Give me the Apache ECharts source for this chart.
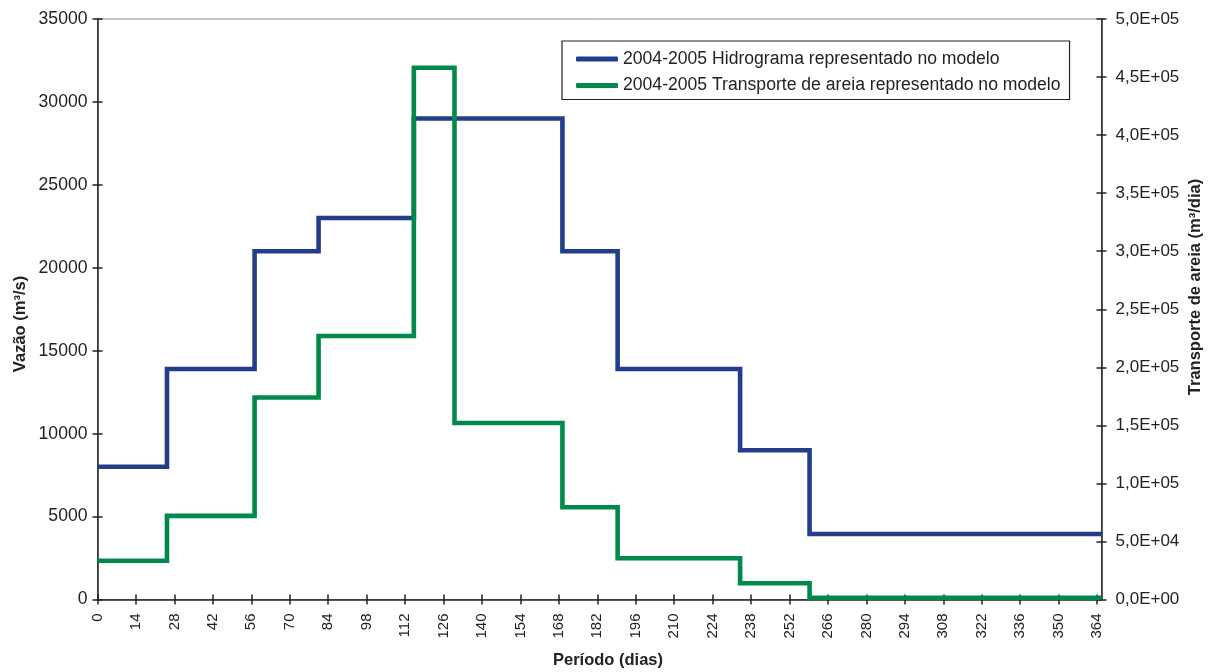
<!DOCTYPE html>
<html>
<head>
<meta charset="utf-8">
<script src="https://cdn.jsdelivr.net/npm/echarts@6/dist/echarts.min.js"></script>
<style>
  html, body { margin: 0; padding: 0; background: #fff; }
  #chart { width: 1210px; height: 672px; }
</style>
</head>
<body>
<div id="chart"></div>
<script>
// Period start days for each constant step, and the end of the year
const flowStarts = [0, 25.3, 57.2, 80.5, 115.2, 169.3, 189.4, 234.0, 259.3];
const flowValues = [8000, 13900, 21000, 23000, 29000, 21000, 13900, 9000, 3950];   // m³/s

const sandStarts = [0, 25.3, 57.2, 80.5, 115.2, 130.0, 169.3, 189.4, 234.0, 259.3];
const sandValues = [33400, 72000, 174000, 227000, 458000, 152000, 79400, 35500, 14000, 1500]; // m³/dia

const periodEnd = 365.6;
const dayTicks = [0, 14, 28, 42, 56, 70, 84, 98, 112, 126, 140, 154, 168, 182, 196, 210,
                  224, 238, 252, 266, 280, 294, 308, 322, 336, 350, 364];
const flowTicks = [0, 5000, 10000, 15000, 20000, 25000, 30000, 35000];
const sandTicks = [0, 50000, 100000, 150000, 200000, 250000, 300000, 350000, 400000, 450000, 500000];

const seriesNames = [
  '2004-2005 Hidrograma representado no modelo',
  '2004-2005 Transporte de areia representado no modelo'
];

function stepData(starts, values) {
  const pts = starts.map((d, i) => [d, values[i]]);
  pts.push([periodEnd, values[values.length - 1]]);
  return pts;
}

// Excel-style scientific label with a decimal comma, e.g. 4,5E+05
function sci(v) {
  if (v === 0) return '0,0E+00';
  const e = Math.floor(Math.log10(v) + 1e-9);
  const m = v / Math.pow(10, e);
  return m.toFixed(1).replace('.', ',') + 'E+' + String(e).padStart(2, '0');
}

const FONT = 'Liberation Sans, Arial, Helvetica, sans-serif';
const INK = '#222';
const TICK = { color: INK, width: 1.5 };
const box = { left: 97.5, right: 108.5, top: 19, bottom: 72.5 };

// Ticks crossing the axis line: outward ticks on the main axes (grid 0),
// inward ticks on label-less twins placed in an identical overlay grid (grid 1).
function xAxisPair() {
  const base = {
    type: 'value', min: 0, max: periodEnd, position: 'bottom',
    splitLine: { show: false }
  };
  return [
    Object.assign({}, base, {
      gridIndex: 0,
      axisLine: { show: true, lineStyle: TICK },
      axisTick: { show: true, inside: false, length: 5, customValues: dayTicks, lineStyle: TICK },
      axisLabel: { show: true, rotate: 90, margin: 14, customValues: dayTicks,
                   fontFamily: FONT, fontSize: 15, color: INK }
    }),
    Object.assign({}, base, {
      gridIndex: 1,
      axisLine: { show: false },
      axisTick: { show: true, inside: true, length: 5, customValues: dayTicks, lineStyle: TICK },
      axisLabel: { show: false }
    })
  ];
}

function yAxisPair(max, ticks, position, label) {
  const base = {
    type: 'value', min: 0, max: max, position: position,
    splitLine: { show: false }
  };
  return [
    Object.assign({}, base, {
      gridIndex: 0,
      axisLine: { show: true, lineStyle: TICK },
      axisTick: { show: true, inside: false, length: 5, customValues: ticks, lineStyle: TICK },
      axisLabel: Object.assign({ customValues: ticks, fontFamily: FONT, color: INK }, label)
    }),
    Object.assign({}, base, {
      gridIndex: 1,
      axisLine: { show: false },
      axisTick: { show: true, inside: true, length: 5, customValues: ticks, lineStyle: TICK },
      axisLabel: { show: false }
    })
  ];
}

const leftAxes = yAxisPair(35000, flowTicks, 'left',
  { margin: 10, fontSize: 17.6, formatter: v => String(v) });
const rightAxes = yAxisPair(500000, sandTicks, 'right',
  { margin: 14, fontSize: 17, formatter: sci });

const option = {
  animation: false,
  backgroundColor: '#fff',
  textStyle: { fontFamily: FONT },
  grid: [
    Object.assign({ show: true, borderColor: '#888', borderWidth: 1 }, box),
    Object.assign({ show: false }, box)
  ],
  legend: {
    orient: 'vertical',
    left: 562, top: 41,
    padding: [8, 9, 4, 14],
    itemGap: 6.5,
    itemWidth: 42, itemHeight: 5,
    icon: 'roundRect',
    borderColor: INK, borderWidth: 1.2,
    backgroundColor: '#fff',
    textStyle: { fontFamily: FONT, fontSize: 17.6, color: INK, lineHeight: 20 },
    data: seriesNames
  },
  xAxis: xAxisPair(),
  yAxis: [leftAxes[0], rightAxes[0], leftAxes[1], rightAxes[1]],
  series: [
    {
      name: seriesNames[0], type: 'line', step: 'end',
      xAxisIndex: 0, yAxisIndex: 0,
      data: stepData(flowStarts, flowValues),
      showSymbol: false, symbol: 'none',
      color: '#243d8a',
      lineStyle: { width: 4.6, color: '#243d8a', join: 'miter' },
      z: 3
    },
    {
      name: seriesNames[1], type: 'line', step: 'end',
      xAxisIndex: 0, yAxisIndex: 1,
      data: stepData(sandStarts, sandValues),
      showSymbol: false, symbol: 'none',
      color: '#00894b',
      lineStyle: { width: 4.6, color: '#00894b', join: 'miter' },
      z: 4
    }
  ],
  graphic: [
    {
      type: 'text', x: 20, y: 324, rotation: Math.PI / 2,
      style: { text: 'Vazão (m³/s)', font: 'bold 16.5px ' + FONT, fill: INK,
               align: 'center', verticalAlign: 'middle' }
    },
    {
      type: 'text', x: 1195, y: 287, rotation: Math.PI / 2,
      style: { text: 'Transporte de areia (m³/dia)', font: 'bold 16.5px ' + FONT, fill: INK,
               align: 'center', verticalAlign: 'middle' }
    },
    {
      type: 'text', x: 608, y: 660,
      style: { text: 'Período (dias)', font: 'bold 16.5px ' + FONT, fill: INK,
               align: 'center', verticalAlign: 'middle' }
    }
  ]
};

const chart = echarts.init(document.getElementById('chart'), null, { renderer: 'canvas' });
chart.setOption(option);
</script>
</body>
</html>
